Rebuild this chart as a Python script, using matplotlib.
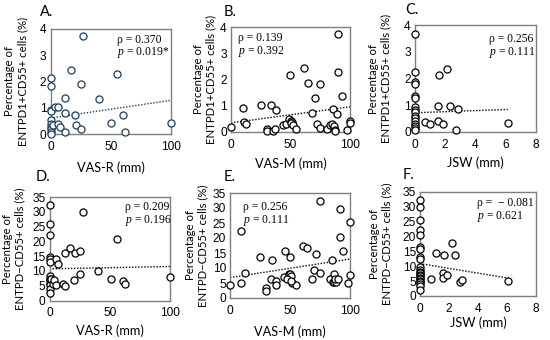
import numpy as np
import matplotlib
matplotlib.use("Agg")
import matplotlib.pyplot as plt

plt.rcParams["mathtext.fontset"] = "custom"
plt.rcParams["mathtext.it"] = "Liberation Serif:italic"
plt.rcParams["mathtext.rm"] = "Liberation Serif"

# --- data --------------------------------------------------------------
# top row: ENTPD1+CD55+ cells (%)
vasr_a = [0, 0, 0, 0, 0, 0, 0, 0, 0, 0, 2, 4, 6, 12, 20, 6, 8, 12, 21, 25,
          27, 17.4, 55, 25, 12.3, 40, 60, 50, 62, 100]
pct_a = [2.15, 1.83, 0.93, 0.88, 0.53, 0.38, 0.3, 0.2, 0.1, 0.02, 0.34, 1.02,
         1.03, 0.81, 0.72, 0.38, 0.3, 0.11, 0.34, 0.22, 3.71, 2.42, 2.28, 1.9,
         1.36, 1.34, 0.72, 0.43, 0.11, 0.43]

vasm_b = [0, 11, 13, 10, 25, 34, 38, 30, 30, 35, 37, 44, 46, 49, 50, 51, 50,
          52, 55, 49.5, 61, 64.5, 74.6, 70.5, 90, 90, 93, 68, 85.5, 89, 72, 75,
          81, 83.5, 85, 86.5, 87.5, 87.5, 97.5, 100, 100]
pct_b = [0.2, 0.37, 0.32, 0.92, 1.03, 1.03, 0.82, 0.1, 0.03, 0.02, 0.12, 0.27,
         0.3, 0.5, 0.42, 0.38, 0.33, 0.25, 0.1, 2.18, 2.42, 1.88, 1.82, 1.31,
         3.72, 2.27, 1.37, 0.73, 0.88, 0.7, 0.3, 0.15, 0.12, 0.28, 0.32, 0.22,
         0.09, 0.03, 0.09, 0.41, 0.35]

jsw_c = [0] * 16 + [1.6, 2.13, 1.49, 2.31, 2.82, 0.69, 1.02, 1.49, 1.82, 2.71, 6.13]
pct_c = [3.67, 2.25, 1.87, 1.8, 1.33, 1.26, 0.92, 0.82, 0.73, 0.6, 0.54, 0.42,
         0.31, 0.23, 0.14, 0.06,
         2.12, 2.37, 0.98, 0.98, 0.86, 0.38, 0.31, 0.42, 0.29, 0.07, 0.35]

# bottom row: ENTPD-CD55+ cells (%)
vasr_d = [0] * 13 + [1.5, 2.5, 4, 5.7, 5.4, 7.1, 12.5, 17, 21.3, 25.5, 27.6, 56,
                     40.4, 25.5, 20.4, 51, 61, 63, 100, 11, 12.5]
pct_d = [32.2, 25.8, 22.2, 14.8, 13.9, 13.1, 8.2, 7.4, 6.8, 5.9, 5.1, 4.0, 2.5,
         7.2, 5.5, 6.8, 5.3, 13.9, 12.5, 15.9, 17.8, 16.1, 16.8, 29.8, 20.7,
         9.9, 8.9, 6.8, 7.4, 6.5, 5.7, 7.9, 5.7, 4.8]

vasm_e = [0, 9.4, 9.4, 12.8, 25, 30, 30, 34.4, 38.3, 38.3, 35, 45.8, 49.8, 44.6,
          49, 50, 51, 47.7, 52, 55, 51, 61, 64.4, 68.2, 70.3, 74.8, 72, 75.4,
          83.3, 85.6, 87, 88.5, 87, 87.6, 90.4, 91.3, 94, 91.3, 85, 98, 100, 100]
pct_e = [4.5, 22.2, 5.1, 8.2, 13.6, 3.4, 2.4, 6.2, 5.6, 4.5, 12.7, 15.8, 13.6,
         6.9, 7.9, 7.9, 7.3, 6.3, 4.9, 4.3, 5.8, 17.5, 16.6, 6.5, 9.5, 8.5,
         14.7, 32.2, 6.2, 5.2, 5.2, 5.2, 7.9, 6.3, 6.3, 20.5, 15.8, 29.7, 12.7,
         4.9, 7.6, 25.5]

jsw_f = [0] * 22 + [1.08, 1.68, 2.18, 2.41, 0.74, 1.56, 1.6, 1.89, 2.76, 2.87, 6.1]
pct_f = [32.4, 29.8, 25.6, 22.2, 20.6, 16.6, 15.8, 13, 12.3, 9.8, 8.7, 8.2, 7.7,
         7.2, 6.7, 6.2, 5.7, 5.2, 4.6, 4, 3.2, 2.1,
         14.6, 13.8, 17.7, 13.8, 5.6, 7.8, 6.2, 6.9, 4.7, 5.3, 5.1]

# linear trend lines (intercept, slope)
trend_a = [0.62, 0.0067]
trend_b = [0.35, 0.0061]
trend_c = [0.72, 0.02]
trend_d = [10.7, 0.008]
trend_e = [6.8, 0.062]
trend_f = [10.9, -0.8]

rho_txt = ["0.370", "0.139", "0.256", "0.209", "0.256", " \u2212 0.081"]
p_txt = ["0.019*", "0.392", "0.111", "0.196", "0.111", "0.621"]

ylab_top = "Percentage of\nENTPD1+CD55+ cells (%)"
ylab_bot = "Percentage of\nENTPD\u2212CD55+ cells (%)"

W, H = 550, 340
fig = plt.figure(figsize=(5.5, 3.4), dpi=100)


def rect(l, r, t, b):
    return [l / W, 1 - b / H, (r - l) / W, (b - t) / H]


panels = [
    # letter, rect px, x, y, trend, xlabel, ylabel, xlim, xticks, ylim, yticks, colour,
    # text pos (axes frac), ylabel x, xlabel y, letter pos px
    ("A.", (50.5, 171, 28.5, 134.5), vasr_a, pct_a, trend_a, "VAS-R (mm)", ylab_top,
     (0, 100), [0, 50, 100], (0, 4), range(0, 5), "#1f3d5c", (0.555, 0.895, 0.775), -0.285, -0.31, (40, 11.7)),
    ("B.", (231, 350, 27, 132), vasm_b, pct_b, trend_b, "VAS-M (mm)", ylab_top,
     (0, 100), [0, 50, 100], (0, 4), range(0, 5), "black", (0.06, 0.895, 0.765), -0.22, -0.30, (224, 11.7)),
    ("C.", (415, 536, 25, 132), jsw_c, pct_c, trend_c, "JSW (mm)", ylab_top,
     (0, 8), [0, 2, 4, 6, 8], (0, 4), range(0, 5), "black", (0.61, 0.87, 0.745), -0.293, -0.287, (405, 10)),
    ("D.", (49.5, 170, 197, 300.5), vasr_d, pct_d, trend_d, "VAS-R (mm)", ylab_bot,
     (0, 100), [0, 50, 100], (0, 35), range(0, 36, 5), "black", (0.625, 0.90, 0.775), -0.296, -0.295, (36, 177)),
    ("E.", (230, 350, 193, 298), vasm_e, pct_e, trend_e, "VAS-M (mm)", ylab_bot,
     (0, 100), [0, 50, 100], (0, 35), range(0, 36, 5), "black", (0.106, 0.87, 0.74), -0.28, -0.32, (224, 177)),
    ("F.", (420, 536, 192, 296), jsw_f, pct_f, trend_f, "JSW (mm)", ylab_bot,
     (0, 8), [0, 2, 4, 6, 8], (0, 35), range(0, 36, 5), "black", (0.49, 0.89, 0.765), -0.34, -0.26, (403, 175)),
]

for i, (letter, r, x, y, tr, xl, yl, xlim, xt, ylim, yt, col, tpos, ylx, xly, lpos) in enumerate(panels):
    ax = fig.add_axes(rect(*r))
    ax.scatter(x, y, s=26, facecolors="white", edgecolors=col, linewidths=0.9,
               clip_on=False, zorder=3)
    xs = np.array([min(x), max(x)])
    ax.plot(xs, tr[0] + tr[1] * xs, ls=(0, (1, 1.2)), color=col, lw=1.0, zorder=2)
    ax.set_xlim(*xlim)
    ax.set_ylim(*ylim)
    ax.set_xticks(xt)
    ax.set_yticks(list(yt))
    ax.tick_params(length=0, labelsize=8.6, pad=5)
    ax.tick_params(axis="y", pad=3)
    for lab in ax.get_xticklabels() + ax.get_yticklabels():
        lab.set_family("Liberation Sans")
    for sp in ax.spines.values():
        sp.set_color("#7f7f7f")
        sp.set_linewidth(1.0)
    ax.set_xlabel(xl, fontsize=9.2, family="Lato")
    ax.xaxis.set_label_coords(0.5, xly)
    ax.xaxis.label.set_va("center")
    ax.set_ylabel(yl, fontsize=8.2, family="Lato", linespacing=1.15)
    ax.yaxis.set_label_coords(ylx, 0.5)
    ax.yaxis.label.set_va("center")
    ax.text(tpos[0], tpos[1], "\u03c1 = " + rho_txt[i], transform=ax.transAxes,
            fontsize=8.4, family="Liberation Serif", ha="left", va="center")
    ax.text(tpos[0], tpos[2], "$p$ = " + p_txt[i], transform=ax.transAxes,
            fontsize=8.4, family="Liberation Serif", ha="left", va="center")
    fig.text(lpos[0] / W, 1 - lpos[1] / H, letter, fontsize=10.5, family="Lato",
             ha="left", va="center")

fig.savefig("out.png", dpi=100)
